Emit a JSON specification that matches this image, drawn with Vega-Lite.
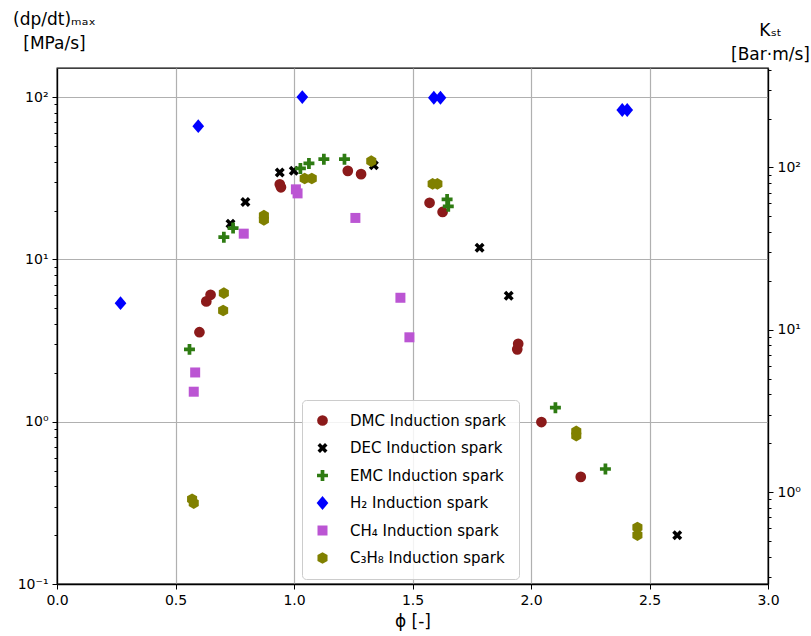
{
  "$schema": "https://vega.github.io/schema/vega-lite/v6.json",
  "autosize": {"type": "none"},
  "padding": {"left": 57, "top": 68, "right": 43, "bottom": 52},
  "width": 711,
  "height": 516,
  "background": "white",
  "config": {
    "font": "DejaVu Sans",
    "view": {"stroke": "black", "strokeWidth": 1.3},
    "axis": {"labelFontSize": 14, "labelColor": "black", "tickColor": "black", "domainColor": "black", "domainWidth": 1.3, "tickWidth": 1, "titleColor": "black", "titleFontWeight": "normal"}
  },
  "data": {"values": [
    {"series": "DMC Induction spark", "phi": 0.601, "dpdt": 3.56},
    {"series": "DMC Induction spark", "phi": 0.630, "dpdt": 5.51},
    {"series": "DMC Induction spark", "phi": 0.648, "dpdt": 6.05},
    {"series": "DMC Induction spark", "phi": 0.940, "dpdt": 29.0},
    {"series": "DMC Induction spark", "phi": 0.945, "dpdt": 27.8},
    {"series": "DMC Induction spark", "phi": 1.227, "dpdt": 35.1},
    {"series": "DMC Induction spark", "phi": 1.283, "dpdt": 33.5},
    {"series": "DMC Induction spark", "phi": 1.572, "dpdt": 22.3},
    {"series": "DMC Induction spark", "phi": 1.627, "dpdt": 19.6},
    {"series": "DMC Induction spark", "phi": 1.942, "dpdt": 2.79},
    {"series": "DMC Induction spark", "phi": 1.946, "dpdt": 3.02},
    {"series": "DMC Induction spark", "phi": 2.044, "dpdt": 0.995},
    {"series": "DMC Induction spark", "phi": 2.210, "dpdt": 0.457},
    {"series": "DEC Induction spark", "phi": 0.732, "dpdt": 16.6},
    {"series": "DEC Induction spark", "phi": 0.795, "dpdt": 22.6},
    {"series": "DEC Induction spark", "phi": 0.940, "dpdt": 34.3},
    {"series": "DEC Induction spark", "phi": 0.999, "dpdt": 35.1},
    {"series": "DEC Induction spark", "phi": 1.337, "dpdt": 38.0},
    {"series": "DEC Induction spark", "phi": 1.783, "dpdt": 11.8},
    {"series": "DEC Induction spark", "phi": 1.906, "dpdt": 5.97},
    {"series": "DEC Induction spark", "phi": 2.617, "dpdt": 0.200},
    {"series": "EMC Induction spark", "phi": 0.559, "dpdt": 2.79},
    {"series": "EMC Induction spark", "phi": 0.704, "dpdt": 13.7},
    {"series": "EMC Induction spark", "phi": 0.743, "dpdt": 15.6},
    {"series": "EMC Induction spark", "phi": 1.027, "dpdt": 36.3},
    {"series": "EMC Induction spark", "phi": 1.063, "dpdt": 39.0},
    {"series": "EMC Induction spark", "phi": 1.126, "dpdt": 41.4},
    {"series": "EMC Induction spark", "phi": 1.213, "dpdt": 41.4},
    {"series": "EMC Induction spark", "phi": 1.646, "dpdt": 23.4},
    {"series": "EMC Induction spark", "phi": 1.651, "dpdt": 21.2},
    {"series": "EMC Induction spark", "phi": 2.103, "dpdt": 1.22},
    {"series": "EMC Induction spark", "phi": 2.314, "dpdt": 0.511},
    {"series": "H₂ Induction spark", "phi": 0.268, "dpdt": 5.37},
    {"series": "H₂ Induction spark", "phi": 0.596, "dpdt": 66.2},
    {"series": "H₂ Induction spark", "phi": 1.035, "dpdt": 100},
    {"series": "H₂ Induction spark", "phi": 1.590, "dpdt": 99},
    {"series": "H₂ Induction spark", "phi": 1.618, "dpdt": 99},
    {"series": "H₂ Induction spark", "phi": 2.385, "dpdt": 83.2},
    {"series": "H₂ Induction spark", "phi": 2.406, "dpdt": 83.2},
    {"series": "CH₄ Induction spark", "phi": 0.577, "dpdt": 1.53},
    {"series": "CH₄ Induction spark", "phi": 0.583, "dpdt": 2.01},
    {"series": "CH₄ Induction spark", "phi": 0.788, "dpdt": 14.4},
    {"series": "CH₄ Induction spark", "phi": 1.008, "dpdt": 27.0},
    {"series": "CH₄ Induction spark", "phi": 1.015, "dpdt": 25.5},
    {"series": "CH₄ Induction spark", "phi": 1.259, "dpdt": 18.0},
    {"series": "CH₄ Induction spark", "phi": 1.449, "dpdt": 5.80},
    {"series": "CH₄ Induction spark", "phi": 1.487, "dpdt": 3.31},
    {"series": "C₃H₈ Induction spark", "phi": 0.570, "dpdt": 0.333},
    {"series": "C₃H₈ Induction spark", "phi": 0.577, "dpdt": 0.315},
    {"series": "C₃H₈ Induction spark", "phi": 0.701, "dpdt": 4.84},
    {"series": "C₃H₈ Induction spark", "phi": 0.704, "dpdt": 6.19},
    {"series": "C₃H₈ Induction spark", "phi": 0.873, "dpdt": 17.5},
    {"series": "C₃H₈ Induction spark", "phi": 0.873, "dpdt": 18.6},
    {"series": "C₃H₈ Induction spark", "phi": 1.045, "dpdt": 31.5},
    {"series": "C₃H₈ Induction spark", "phi": 1.075, "dpdt": 31.5},
    {"series": "C₃H₈ Induction spark", "phi": 1.326, "dpdt": 40.3},
    {"series": "C₃H₈ Induction spark", "phi": 1.585, "dpdt": 29.2},
    {"series": "C₃H₈ Induction spark", "phi": 1.605, "dpdt": 29.2},
    {"series": "C₃H₈ Induction spark", "phi": 2.191, "dpdt": 0.871},
    {"series": "C₃H₈ Induction spark", "phi": 2.191, "dpdt": 0.820},
    {"series": "C₃H₈ Induction spark", "phi": 2.449, "dpdt": 0.223},
    {"series": "C₃H₈ Induction spark", "phi": 2.449, "dpdt": 0.200}
  ]},
  "encoding": {
    "x": {"field": "phi", "type": "quantitative",
      "scale": {"domain": [0, 3], "nice": false, "zero": false},
      "axis": {"values": [0, 0.5, 1, 1.5, 2, 2.5, 3], "format": ".1f", "grid": true, "gridColor": "#b0b0b0", "gridWidth": 1.2, "tickSize": 5, "labelPadding": 4, "title": "ϕ [-]", "titleFontSize": 17, "titlePadding": 6, "labelFlush": false}
    }
  },
  "resolve": {"scale": {"y": "independent"}, "axis": {"y": "independent"}},
  "layer": [
    {
      "mark": {"type": "point", "filled": true, "opacity": 1, "strokeWidth": 0},
      "encoding": {
        "y": {"field": "dpdt", "type": "quantitative",
          "scale": {"type": "log", "domain": [0.1, 151], "nice": false},
          "axis": {"orient": "left", "values": [0.1, 1, 10, 100], "labelExpr": "datum.value < 0.5 ? '10⁻¹' : datum.value < 5 ? '10⁰' : datum.value < 50 ? '10¹' : '10²'", "grid": true, "gridColor": "#b0b0b0", "gridWidth": 1.2, "tickSize": 5, "labelPadding": 4,
            "title": ["(dp/dt)ₘₐₓ", "[MPa/s]"], "titleAngle": 0, "titleAlign": "center", "titleBaseline": "top", "titleX": -3, "titleY": -57, "titleFontSize": 17, "titleLineHeight": 24}
        },
        "color": {"field": "series", "type": "nominal",
          "scale": {"domain": ["DMC Induction spark", "DEC Induction spark", "EMC Induction spark", "H₂ Induction spark", "CH₄ Induction spark", "C₃H₈ Induction spark"],
                    "range": ["#8B1A1A", "#000000", "#2E7B12", "#0000FF", "#BB55D3", "#808000"]},
          "legend": {"title": null, "orient": "none", "legendX": 245, "legendY": 332, "strokeColor": "#cccccc", "fillColor": "rgba(255,255,255,0.85)", "padding": 13, "cornerRadius": 4, "labelFontSize": 15, "rowPadding": 11.5, "labelOffset": 20, "symbolStrokeWidth": 0}
        },
        "shape": {"field": "series", "type": "nominal",
          "scale": {"domain": ["DMC Induction spark", "DEC Induction spark", "EMC Induction spark", "H₂ Induction spark", "CH₄ Induction spark", "C₃H₈ Induction spark"],
                    "range": ["circle", "M-1,-0.5L-0.5,-1L0,-0.5L0.5,-1L1,-0.5L0.5,0L1,0.5L0.5,1L0,0.5L-0.5,1L-1,0.5L-0.5,0Z", "M-1,-0.34L-0.34,-0.34L-0.34,-1L0.34,-1L0.34,-0.34L1,-0.34L1,0.34L0.34,0.34L0.34,1L-0.34,1L-0.34,0.34L-1,0.34Z", "M0,-1L0.85,0L0,1L-0.85,0Z", "square", "M0,-1L0.866,-0.5L0.866,0.5L0,1L-0.866,0.5L-0.866,-0.5Z"]},
          "legend": {"title": null}
        },
        "size": {"field": "series", "type": "nominal",
          "scale": {"type": "ordinal", "domain": ["DMC Induction spark", "DEC Induction spark", "EMC Induction spark", "H₂ Induction spark", "CH₄ Induction spark", "C₃H₈ Induction spark"],
                    "range": [115, 100, 120, 190, 100, 135]},
          "legend": {"title": null}
        }
      }
    },
    {
      "mark": {"type": "point", "opacity": 0},
      "encoding": {
        "y": {"field": "dpdt", "type": "quantitative",
          "scale": {"type": "log", "domain": [0.1, 151], "nice": false},
          "axis": {"orient": "left", "values": [0.2, 0.3, 0.4, 0.5, 0.6, 0.7, 0.8, 0.9, 2, 3, 4, 5, 6, 7, 8, 9, 20, 30, 40, 50, 60, 70, 80, 90], "labels": false, "grid": false, "tickSize": 3, "domain": false, "title": null}
        }
      }
    },
    {
      "mark": {"type": "point", "opacity": 0},
      "encoding": {
        "y": {"field": "dpdt", "type": "quantitative",
          "scale": {"type": "log", "domain": [0.2714, 409.8], "nice": false},
          "axis": {"orient": "right", "values": [1, 10, 100], "labelExpr": "datum.value < 5 ? '10⁰' : datum.value < 50 ? '10¹' : '10²'", "grid": false, "tickSize": 5, "labelPadding": 4,
            "title": ["Kₛₜ", "[Bar·m/s]"], "titleAngle": 0, "titleAlign": "center", "titleBaseline": "top", "titleX": 2, "titleY": -46, "titleFontSize": 17, "titleLineHeight": 24}
        }
      }
    },
    {
      "mark": {"type": "point", "opacity": 0},
      "encoding": {
        "y": {"field": "dpdt", "type": "quantitative",
          "scale": {"type": "log", "domain": [0.2714, 409.8], "nice": false},
          "axis": {"orient": "right", "values": [0.3, 0.4, 0.5, 0.6, 0.7, 0.8, 0.9, 2, 3, 4, 5, 6, 7, 8, 9, 20, 30, 40, 50, 60, 70, 80, 90, 200, 300, 400], "labels": false, "grid": false, "tickSize": 3, "domain": false, "title": null}
        }
      }
    }
  ]
}
